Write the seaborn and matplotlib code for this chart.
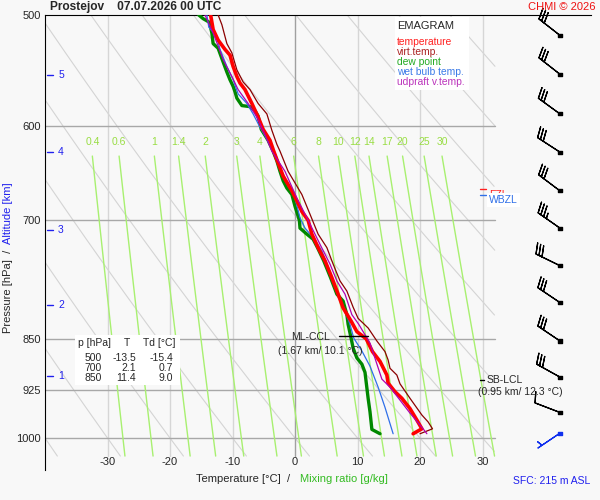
import numpy as np
import pandas as pd
import matplotlib
matplotlib.use("Agg")
import matplotlib.pyplot as plt
import seaborn as sns

# sounding Prostejov 07.07.2026 00 UTC
temp_p = [500, 512, 521, 529, 534, 544, 553, 559, 565, 578, 591, 603, 614, 625, 632, 651, 667, 678,
          690, 700, 716, 732, 748, 769, 790, 808, 826, 840, 850, 868, 882, 902, 914, 927, 937, 953,
          971, 985, 993]
temp_t = [-13.5, -13.1, -12.3, -11.2, -10.4, -9.9, -9.3, -8.8, -8.0, -6.9, -5.9, -5.1, -4.0, -3.4,
          -3.0, -1.9, -0.5, 0.3, 1.1, 2.1, 2.7, 3.7, 4.8, 5.9, 6.9, 7.7, 9.0, 9.9, 11.4, 12.4, 13.6,
          14.7, 14.9, 16.0, 17.1, 18.4, 19.5, 20.3, 18.9]

dewp_p = [500, 503, 506, 515, 524, 528, 537, 549, 556, 562, 567, 573, 580, 581, 585, 590, 603, 614,
          625, 635, 646, 656, 664, 671, 684, 700, 709, 716, 722, 732, 748, 769, 790, 799, 808, 817,
          830, 850, 863, 877, 886, 898, 937, 958, 986, 993]
dewp_t = [-15.4, -14.7, -13.7, -13.3, -13.1, -12.3, -11.7, -10.9, -10.4, -9.9, -9.6, -9.3, -8.5,
          -7.2, -6.4, -5.9, -5.4, -4.3, -3.5, -2.9, -2.4, -1.9, -1.3, -0.5, 0.0, 0.7, 0.8, 1.9,
          2.9, 3.6, 4.6, 5.7, 6.7, 7.7, 8.0, 8.3, 8.5, 9.0, 9.3, 9.9, 10.7, 11.2, 11.7, 12.0,
          12.3, 13.6]

wetb_p = [500, 510, 518, 529, 544, 556, 569, 578, 588, 601, 628, 646, 660, 675, 697, 709, 720, 736,
          761, 786, 812, 830, 849, 867, 889, 920, 951, 993]
wetb_t = [-14.1, -13.8, -12.5, -12.0, -10.9, -9.9, -9.1, -7.7, -6.7, -5.6, -3.1, -2.1, -1.1, 0.0,
          0.8, 1.6, 2.9, 4.3, 5.6, 6.7, 8.0, 8.8, 9.4, 10.7, 12.0, 13.3, 14.4, 15.7]

updr_p = [500, 515, 526, 538, 553, 565, 578, 591, 604, 625, 646, 675, 697, 728, 752, 773, 790, 817,
          830, 856, 908, 920, 960, 985, 993]
updr_t = [-14.4, -13.1, -12.3, -11.5, -10.1, -9.1, -7.5, -6.1, -5.1, -3.7, -1.6, 0.3, 1.9, 4.0,
          5.6, 6.7, 8.0, 9.1, 10.2, 12.0, 13.9, 15.2, 18.4, 20.5, 21.1]

virt_p = [500, 508, 524, 532, 547, 558, 565, 578, 588, 604, 618, 625, 646, 671, 693, 716, 732, 752,
          773, 786, 807, 822, 835, 853, 868, 880, 892, 902, 915, 937, 963, 974, 985, 993]
virt_t = [-12.3, -11.7, -10.9, -10.1, -9.3, -8.3, -7.2, -5.9, -4.5, -3.7, -2.9, -2.4, -1.1, 1.1,
          2.4, 3.7, 5.1, 6.1, 7.2, 8.3, 9.3, 10.1, 11.7, 13.1, 14.4, 14.9, 15.2, 16.3, 16.8, 18.4,
          20.3, 21.3, 22.0, 20.0]

# table of standard levels
tab_p = [500, 700, 850]
tab_t = [-13.5, 2.1, 11.4]
tab_td = [-15.4, 0.7, 9.0]

# winds (direction deg, speed kt) at the barb levels
wind_p = [517, 551, 588, 626, 667, 709, 754, 801, 853, 905, 959, 992]
wind_dir = [308, 308, 306, 303, 307, 305, 296, 304, 304, 299, 291, 236]
wind_kt = [30, 30, 30, 30, 30, 35, 30, 30, 30, 30, 10, 5]

# altitude marks
alt_km = [1, 2, 3, 4, 5]
alt_p = [904, 804, 711, 626, 552]

# isopleths
isobars = [600, 700, 850, 925, 1000]
isotherms = [-30, -20, -10, 0, 10, 20, 30]
mix_ratios = [0.4, 0.6, 1, 1.4, 2, 3, 4, 6, 8, 10, 12, 14, 17, 20, 25, 30]
theta_1000 = list(range(-100, 141, 10))

W, H = 600, 500
sns.set_style("white")
plt.rcParams["font.family"] = ["Liberation Sans", "DejaVu Sans"]
bg = "#f8f8f8"
fig = plt.figure(figsize=(6, 5), dpi=100, facecolor=bg)
ax = fig.add_axes([45 / W, 30 / H, 546 / W, 455 / H], facecolor=bg)
ax.set_yscale("log")
pbot = 500 * np.exp(455 / 610.3)
ax.set_xlim(-40, 47.36)
ax.set_ylim(pbot, 500)

TMAX = 32
pp = np.linspace(500, 1030, 400)

# dry adiabats
for th in theta_1000:
    t = (th + 273.15) * (pp / 1000.0) ** 0.2857 - 273.15
    t = np.where((t >= -40) & (t <= TMAX), t, np.nan)
    ax.plot(t, pp, color="#d4d4d4", lw=0.8, zorder=1)

# isotherms / isobars
for t in isotherms:
    ax.plot([t, t], [500, 1030], color="#a0a0a0" if t == 0 else "#d6d6d6", lw=1, zorder=1)
for p in isobars:
    ax.plot([-40, TMAX], [p, p], color="#a8a8a8", lw=1, zorder=1)

# mixing ratio lines
pm = np.linspace(630, 1030, 60)
for w in mix_ratios:
    e = w * pm / (622.0 + w)
    g = np.log(e / 6.112)
    td = 243.5 * g / (17.67 - g)
    ax.plot(td, pm, color="#a8f070", lw=1, zorder=2)
    ax.text(td[0], 616, f"{w:g}", color="#99dd44", fontsize=7.5, ha="center", va="center", zorder=3)

# sounding curves
curves = [
    (dewp_t, dewp_p, "#008800", 2.4),
    (wetb_t, wetb_p, "#2f6fe8", 0.9),
    (virt_t, virt_p, "#8b0000", 0.9),
    (temp_t, temp_p, "#ff0000", 2.6),
    (updr_t, updr_p, "#b000b0", 0.9),
]
for tt, pl, col, lw in curves:
    df = pd.DataFrame({"T": tt, "p": pl})
    sns.lineplot(data=df, x="T", y="p", sort=False, estimator=None, color=col, lw=lw, ax=ax, zorder=5)

ax.set_xlim(-40, 47.36)
ax.set_ylim(pbot, 500)
ax.set_xlabel("")
ax.set_ylabel("")

# axes
for s in ["right", "bottom"]:
    ax.spines[s].set_visible(False)
ax.spines["left"].set_color("black")
ax.spines["top"].set_color("black")
ax.set_xticks([])
ax.set_yticks(isobars + [500])
ax.set_yticklabels([str(p) for p in isobars + [500]], fontsize=8)
ax.yaxis.set_minor_locator(matplotlib.ticker.NullLocator())
ax.tick_params(axis="y", length=0, pad=3)

trans_x = matplotlib.transforms.blended_transform_factory(ax.transData, ax.transAxes)
for t in isotherms:
    ax.text(t, 0.0176, f"{t}", transform=trans_x, fontsize=8, ha="center", va="center")

# altitude marks
for km, p in zip(alt_km, alt_p):
    ax.plot([-39.7, -38.7], [p, p], color="#2020ee", lw=1, zorder=4)
    ax.text(-37.9, p, str(km), color="#2020ee", fontsize=7.5, ha="left", va="center")

# wind barbs
wd = np.radians(wind_dir)
u = -np.array(wind_kt) * np.sin(wd)
v = -np.array(wind_kt) * np.cos(wd)
bx = np.full(len(wind_p), 42.4)
cols = ["black"] * (len(wind_p) - 1) + ["#1030ee"]
ax.barbs(bx, wind_p, u, v, color=cols, length=6.2, lw=0.9, zorder=6, clip_on=False)
ax.scatter(bx, wind_p, c=cols, marker="s", s=5, zorder=7, clip_on=False)

# levels
ax.plot([7.0, 11.7], [846, 846], color="black", lw=1, zorder=6)
ax.text(5.6, 847, "ML-CCL", fontsize=7.5, ha="right", va="center", zorder=7)
ax.text(4.0, 867, "(1.67 km/ 10.1 °C)", fontsize=7.5, ha="center", va="center", zorder=7)
ax.plot([29.6, 30.2], [909, 909], color="black", lw=1, zorder=6)
ax.text(30.7, 909, "SB-LCL", fontsize=7.5, ha="left", va="center", zorder=7)
ax.text(36.0, 928, "(0.95 km/ 12.3 °C)", fontsize=7.5, ha="center", va="center", zorder=7)
ax.plot([29.6, 30.5], [665, 665], color="#ff2020", lw=1, zorder=6)
ax.text(31.0, 671, "FZL", color="#ff2020", fontsize=7.5, ha="left", va="center", zorder=7)
ax.plot([29.6, 30.5], [671, 671], color="#2f6fe8", lw=1, zorder=6)
ax.text(31.0, 677, "WBZL", color="#2f6fe8", fontsize=7.5, ha="left", va="center", zorder=8,
        bbox=dict(facecolor="white", edgecolor="none", pad=1.6))


def ftext(x, y, s, **kw):
    fig.text(x / W, 1 - y / H, s, **kw)


# legend box
fig.patches.append(matplotlib.patches.Rectangle((395 / W, 1 - 90 / H), 74 / W, 73 / H,
                                                transform=fig.transFigure, facecolor="white",
                                                edgecolor="none", zorder=3))
ftext(397, 26, "EMAGRAM", fontsize=8, va="center", zorder=4)
leg = [("temperature", "#ff2020"), ("virt.temp.", "#aa2222"), ("dew point", "#22aa22"),
       ("wet bulb temp.", "#3a7ae8"), ("udpraft v.temp.", "#bb33bb")]
for i, (name, col) in enumerate(leg):
    ftext(397, 42 + i * 10, name, color=col, fontsize=7.4, va="center", zorder=4)

# table box
fig.patches.append(matplotlib.patches.Rectangle((75 / W, 1 - 385 / H), 105 / W, 50 / H,
                                                transform=fig.transFigure, facecolor="white",
                                                edgecolor="none", zorder=3))
ftext(78, 343, "p [hPa]", fontsize=7.5, va="center", zorder=4)
ftext(127, 343, "T", fontsize=7.5, va="center", ha="center", zorder=4)
ftext(143, 343, "Td [°C]", fontsize=7.5, va="center", zorder=4)
for i, (p, t, td) in enumerate(zip(tab_p, tab_t, tab_td)):
    y = 358 + i * 10
    ftext(102, y, str(p), fontsize=7.5, ha="right", va="center", zorder=4)
    ftext(136, y, f"{t:.1f}", fontsize=7.5, ha="right", va="center", zorder=4)
    ftext(173, y, f"{td:.1f}", fontsize=7.5, ha="right", va="center", zorder=4)

# titles and labels
ftext(50, 7, "Prostejov    07.07.2026 00 UTC", fontsize=8.6, fontweight="bold", va="center")
ftext(596, 7, "CHMI © 2026", color="#ee1111", fontsize=8, ha="right", va="center")
ftext(243, 479, "Temperature [°C]  /", fontsize=8, ha="center", va="center")
ftext(344, 479, "Mixing ratio [g/kg]", color="#33bb22", fontsize=8, ha="center", va="center")
ftext(590, 481, "SFC: 215 m ASL", color="#2020ee", fontsize=7.5, ha="right", va="center")
ftext(8, 291, "Pressure [hPa]  /", fontsize=8, rotation=90, ha="center", va="center")
ftext(8, 213, "Altitude [km]", color="#2020ee", fontsize=8, rotation=90, ha="center", va="center")

fig.savefig("out.png", dpi=100, facecolor=bg)
